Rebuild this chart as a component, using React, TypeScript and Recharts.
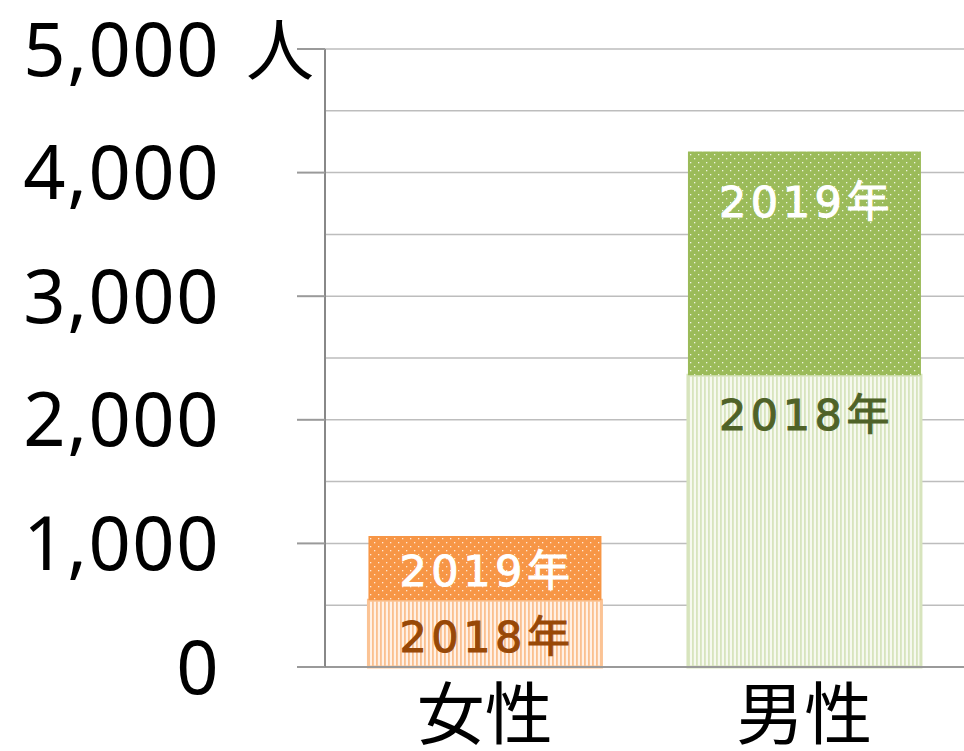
import React from "react";
import { Bar, BarChart, CartesianGrid, Cell, LabelList, XAxis, YAxis } from "recharts";

// values (persons)
const categories = ["女性", "男性"];
const values2018 = [540, 2360];
const values2019 = [520, 1810];
const yTicks = [0, 500, 1000, 1500, 2000, 2500, 3000, 3500, 4000, 4500, 5000];

const data = categories.map((name, i) => ({ name, y2018: values2018[i], y2019: values2019[i] }));

const AXIS_X = 325;
const TICK_LEN = 28;
const LABEL_RIGHT = 220;

const fill2019 = ["url(#dotsOrange)", "url(#dotsGreen)"];
const fill2018 = ["url(#stripesOrange)", "url(#stripesGreen)"];
const border2018 = ["#FBC394", "#D7E4BD"];
const text2018 = ["#984807", "#4F6228"];

const Patterns = () => (
  <svg width={0} height={0} style={{ position: "absolute" }}>
    <defs>
      <pattern id="dotsOrange" width={8} height={8} patternUnits="userSpaceOnUse">
        <rect width={8} height={8} fill="#F79646" />
        <rect x={2} y={2} width={1.3} height={1.3} fill="#FFE9D6" />
        <rect x={6} y={6} width={1.3} height={1.3} fill="#FFE9D6" />
      </pattern>
      <pattern id="dotsGreen" width={8} height={8} patternUnits="userSpaceOnUse">
        <rect width={8} height={8} fill="#9BBB59" />
        <rect x={2} y={2} width={1.3} height={1.3} fill="#EEF4E0" />
        <rect x={6} y={6} width={1.3} height={1.3} fill="#EEF4E0" />
      </pattern>
      <pattern id="stripesOrange" width={4} height={4} patternUnits="userSpaceOnUse">
        <rect width={4} height={4} fill="#FFF1E6" />
        <rect x={0} width={1.8} height={4} fill="#FBC08F" />
      </pattern>
      <pattern id="stripesGreen" width={4} height={4} patternUnits="userSpaceOnUse">
        <rect width={4} height={4} fill="#F6F9EF" />
        <rect x={0} width={1.8} height={4} fill="#D7E4BD" />
      </pattern>
    </defs>
  </svg>
);

const YTick = ({ y, payload }: any) => {
  const v = payload.value;
  if (v % 1000 !== 0) return null;
  return (
    <g>
      <line x1={AXIS_X - TICK_LEN} x2={AXIS_X} y1={y} y2={y} stroke="#9A9A9A" strokeWidth={2} />
      <text
        x={LABEL_RIGHT}
        y={y}
        dy={-2}
        textAnchor="end"
        dominantBaseline="central"
        fontFamily="'Noto Sans', sans-serif"
        fontSize={74}
        letterSpacing={1.5}
        fill="#000"
      >
        {v.toLocaleString("en-US")}
      </text>
      {v === 5000 && (
        <text
          x={LABEL_RIGHT + 26}
          y={y}
          dy={-4}
          dominantBaseline="central"
          fontFamily="'Noto Sans CJK JP', sans-serif"
          fontSize={68}
          fill="#000"
        >
          人
        </text>
      )}
    </g>
  );
};

const XTick = ({ x, y, payload }: any) => (
  <text
    x={x}
    y={y + 34}
    textAnchor="middle"
    dominantBaseline="central"
    fontFamily="'Noto Sans CJK JP', sans-serif"
    fontSize={68}
    fill="#000"
  >
    {payload.value}
  </text>
);

const makeLabel = (text: string, colors: string[], topOffset: number) => (props: any) => {
  const { x, y, width, height, index } = props;
  const cy = height > 100 ? y + topOffset : y + height / 2 + 3;
  const c = colors[index ?? 0];
  return (
    <text
      x={x + width / 2 + 2}
      y={cy}
      textAnchor="middle"
      dominantBaseline="central"
      fontFamily="'DejaVu Sans', 'Noto Sans CJK JP', sans-serif"
      fontSize={43}
      letterSpacing={4.5}
      fill={c}
      stroke={c}
      strokeWidth={1}
    >
      {text}
    </text>
  );
};

export default function App() {
  return (
    <div style={{ position: "absolute", left: 0, top: 0, width: 964, height: 751, background: "#fff" }}>
      <Patterns />
      <BarChart width={964} height={751} data={data} margin={{ top: 49, right: 0, bottom: 0, left: 0 }} barCategoryGap="13.6%">
        <CartesianGrid vertical={false} stroke="#BDBDBD" strokeWidth={1.5} />
        <XAxis
          dataKey="name"
          height={84}
          tickLine={false}
          axisLine={{ stroke: "#9A9A9A", strokeWidth: 2 }}
          tick={<XTick />}
          interval={0}
        />
        <YAxis
          type="number"
          domain={[0, 5000]}
          ticks={yTicks}
          width={AXIS_X}
          tickLine={false}
          axisLine={{ stroke: "#888888", strokeWidth: 2 }}
          tick={<YTick />}
          interval={0}
        />
        <Bar dataKey="y2018" stackId="a" isAnimationActive={false} strokeWidth={3}>
          {data.map((_, i) => (
            <Cell key={i} fill={fill2018[i]} stroke={border2018[i]} />
          ))}
          <LabelList dataKey="y2018" content={makeLabel("2018年", text2018, 40)} />
        </Bar>
        <Bar dataKey="y2019" stackId="a" isAnimationActive={false}>
          {data.map((_, i) => (
            <Cell key={i} fill={fill2019[i]} />
          ))}
          <LabelList dataKey="y2019" content={makeLabel("2019年", ["#FFFFFF", "#FFFFFF"], 50)} />
        </Bar>
      </BarChart>
    </div>
  );
}
